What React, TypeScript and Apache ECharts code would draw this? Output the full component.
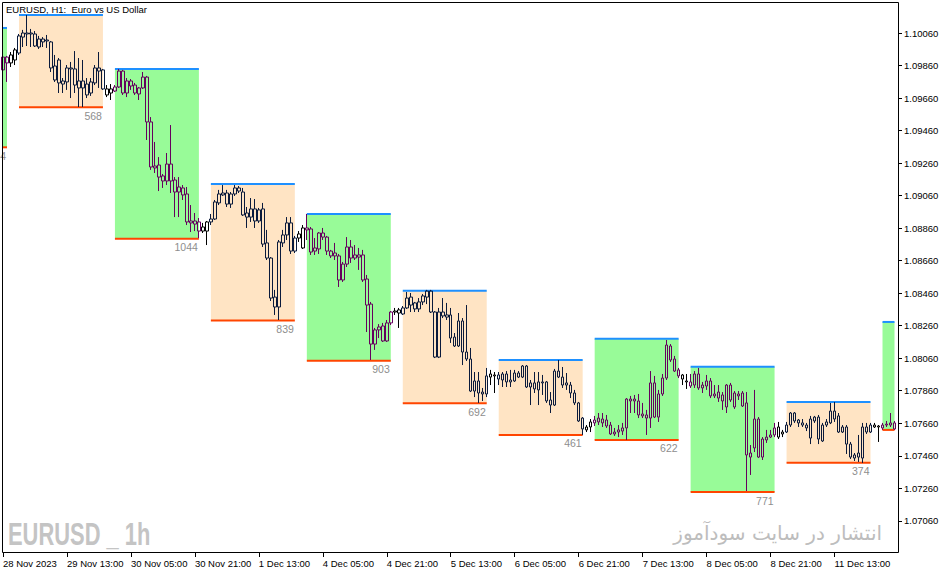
import React, { useEffect, useRef } from "react";
import * as echarts from "echarts";

// ---------- categories (H1 bars, weekend skipped) ----------
const tradingDays = ["28 Nov", "29 Nov", "30 Nov", "1 Dec", "4 Dec", "5 Dec", "6 Dec", "7 Dec", "8 Dec", "11 Dec", "12 Dec"];
const firstBarHour = 21;
const lastBarHour = 4;
const categories: string[] = [];
tradingDays.forEach((d, di) => {
  const h0 = di === 0 ? firstBarHour : 0;
  const h1 = di === tradingDays.length - 1 ? lastBarHour : 23;
  for (let h = h0; h <= h1; h++) categories.push(`${d} ${String(h).padStart(2, "0")}:00`);
});

const xTickEvery = 16;
const xTickLabels = [
  "28 Nov 2023", "29 Nov 13:00", "30 Nov 05:00", "30 Nov 21:00", "1 Dec 13:00", "4 Dec 05:00", "4 Dec 21:00",
  "5 Dec 13:00", "6 Dec 05:00", "6 Dec 21:00", "7 Dec 13:00", "8 Dec 05:00", "8 Dec 21:00", "11 Dec 13:00",
];
const yTickValues = [
  1.0706, 1.0726, 1.0746, 1.0766, 1.0786, 1.0806, 1.0826, 1.0846, 1.0866, 1.0886, 1.0906, 1.0926, 1.0946, 1.0966, 1.0986, 1.1006,
];

// ---------- OHLC ----------
const openPrices = [
  1.09833, 1.09912, 1.09876,
  1.09894, 1.09937, 1.10035, 1.1006, 1.1006, 1.10054, 1.09974, 1.10005, 1.10017, 1.10005, 1.09857, 1.09894, 1.09746, 1.09759, 1.09845, 1.09839, 1.09722, 1.09765, 1.09746, 1.09691, 1.09753, 1.09826, 1.09833, 1.09716,
  1.09691, 1.09703, 1.09728, 1.09826, 1.09691, 1.09765, 1.0974, 1.09685, 1.09722, 1.09789, 1.09513, 1.0923, 1.09248, 1.09181, 1.0915, 1.09254, 1.09156, 1.09082, 1.09107, 1.0907, 1.08904, 1.08885, 1.08898, 1.08842,
  1.08842, 1.08898, 1.08916, 1.09015, 1.09064, 1.09076, 1.09008, 1.0907, 1.09107, 1.09082, 1.08953, 1.08928, 1.08978, 1.08904, 1.08978, 1.08769, 1.08676, 1.08436, 1.08375, 1.08769, 1.08818, 1.08892, 1.08719, 1.08799,
  1.08738, 1.08861, 1.08855, 1.08719, 1.08732, 1.0883, 1.08805, 1.08719, 1.08689, 1.08689, 1.08541, 1.08639, 1.08744, 1.08676, 1.08682, 1.08695, 1.08547, 1.08393, 1.08147, 1.08234, 1.08258, 1.08166, 1.08277, 1.08344,
  1.08357, 1.08332, 1.08369, 1.08436, 1.084, 1.08363, 1.08406, 1.08436, 1.08473, 1.08344, 1.08067, 1.08344, 1.08326, 1.08326, 1.0819, 1.08135, 1.08289, 1.08098, 1.08055, 1.07858, 1.0792, 1.07852, 1.0784, 1.07944,
  1.07957, 1.07932, 1.07926, 1.07963, 1.07914, 1.0792, 1.07944, 1.07944, 1.08012, 1.07883, 1.07908, 1.07865, 1.07914, 1.07914, 1.07803, 1.07772, 1.07981, 1.07944, 1.07895, 1.07895, 1.07846, 1.07785, 1.07692, 1.07619,
  1.07637, 1.07662, 1.07668, 1.07686, 1.0768, 1.07649, 1.07606, 1.07606, 1.07612, 1.07631, 1.07809, 1.07797, 1.07797, 1.07717, 1.07711, 1.07692, 1.07908, 1.07698, 1.0784, 1.07938, 1.08135, 1.08055, 1.07988, 1.07957,
  1.0792, 1.07914, 1.07895, 1.07963, 1.07877, 1.07889, 1.0792, 1.0784, 1.07852, 1.07797, 1.0776, 1.07895, 1.0776, 1.0784, 1.07846, 1.07785, 1.07477, 1.07508, 1.07686, 1.07452, 1.07557, 1.07575, 1.07588, 1.07637,
  1.07594, 1.07606, 1.07649, 1.07723, 1.07662, 1.07662, 1.07631, 1.07686, 1.07674, 1.07698, 1.07551, 1.07649, 1.07662, 1.07735, 1.07705, 1.07606, 1.07637, 1.07532, 1.07446, 1.07477, 1.07446, 1.07606, 1.07606, 1.07637,
  1.07643, 1.07631, 1.07649, 1.07649, 1.07662,
];
const closePrices = [
  1.09912, 1.09876, 1.09925,
  1.09956, 1.10042, 1.1006, 1.10054, 1.10054, 1.0998, 1.10023, 1.10023, 1.10011, 1.09845, 1.09771, 1.09753, 1.09765, 1.09845, 1.09839, 1.0974, 1.09765, 1.09722, 1.09679, 1.09759, 1.09845, 1.09845, 1.09716, 1.09679,
  1.09716, 1.09728, 1.09826, 1.09691, 1.09765, 1.09734, 1.09691, 1.09722, 1.09789, 1.09513, 1.09236, 1.09242, 1.09174, 1.0915, 1.09254, 1.0915, 1.09082, 1.09113, 1.09064, 1.08898, 1.08892, 1.08904, 1.08842, 1.08867,
  1.08898, 1.08916, 1.09021, 1.0907, 1.09076, 1.09008, 1.0907, 1.09107, 1.09088, 1.08941, 1.08928, 1.08978, 1.08904, 1.08972, 1.08762, 1.08676, 1.0843, 1.08375, 1.08775, 1.08818, 1.08892, 1.08719, 1.08799, 1.08824,
  1.08861, 1.08849, 1.08713, 1.08738, 1.0883, 1.08805, 1.08719, 1.08689, 1.08707, 1.08541, 1.08639, 1.08744, 1.08676, 1.08695, 1.08695, 1.08541, 1.08387, 1.08147, 1.08234, 1.08252, 1.08166, 1.08277, 1.08344, 1.0835,
  1.08338, 1.08369, 1.0843, 1.08387, 1.08363, 1.08406, 1.08443, 1.08473, 1.08344, 1.08067, 1.08344, 1.0832, 1.08313, 1.08184, 1.08135, 1.08289, 1.08098, 1.08055, 1.07858, 1.0792, 1.07846, 1.0784, 1.07951, 1.07963,
  1.07951, 1.07957, 1.07963, 1.07914, 1.07926, 1.07969, 1.07969, 1.08012, 1.07883, 1.07908, 1.07871, 1.07914, 1.07908, 1.07797, 1.07772, 1.07981, 1.07944, 1.07895, 1.07908, 1.07846, 1.07785, 1.07674, 1.07625, 1.07637,
  1.07668, 1.0768, 1.07692, 1.07662, 1.07643, 1.07594, 1.07594, 1.07619, 1.07631, 1.07809, 1.07797, 1.07809, 1.07711, 1.07705, 1.07692, 1.07908, 1.07698, 1.0784, 1.07938, 1.08141, 1.08049, 1.07981, 1.07951, 1.07932,
  1.07914, 1.07889, 1.07963, 1.07877, 1.07895, 1.0792, 1.07828, 1.07828, 1.07815, 1.07834, 1.07895, 1.07803, 1.07846, 1.07828, 1.07766, 1.07465, 1.07452, 1.07686, 1.07452, 1.07563, 1.07575, 1.07588, 1.07631, 1.07575,
  1.07606, 1.07649, 1.07723, 1.07674, 1.0768, 1.07649, 1.07649, 1.07569, 1.07698, 1.07563, 1.07649, 1.07668, 1.07735, 1.07686, 1.07606, 1.07637, 1.07532, 1.07452, 1.07465, 1.07452, 1.07637, 1.07637, 1.07649, 1.07649,
  1.07637, 1.07649, 1.07655, 1.07662, 1.07625,
];
const lowPrices = [
  1.09802, 1.09759, 1.09851,
  1.09863, 1.09925, 1.09974, 1.0998, 1.09974, 1.09974, 1.09962, 1.09974, 1.09968, 1.0982, 1.09759, 1.09691, 1.09691, 1.0971, 1.0966, 1.09691, 1.09605, 1.09605, 1.0966, 1.09673, 1.0974, 1.09722, 1.0971, 1.09666,
  1.09648, 1.09697, 1.09722, 1.09679, 1.09666, 1.0971, 1.09679, 1.09648, 1.09716, 1.09402, 1.09218, 1.09199, 1.09088, 1.09107, 1.09125, 1.09076, 1.08928, 1.08928, 1.09033, 1.08879, 1.08836, 1.08842, 1.08799, 1.0883,
  1.08756, 1.08879, 1.0891, 1.09002, 1.09058, 1.0899, 1.08984, 1.09058, 1.09076, 1.08935, 1.08861, 1.08898, 1.08861, 1.08892, 1.08744, 1.08664, 1.08412, 1.08326, 1.08295, 1.08744, 1.08787, 1.08701, 1.08707, 1.08775,
  1.08732, 1.08787, 1.08695, 1.08695, 1.08701, 1.08787, 1.08695, 1.08676, 1.08664, 1.08498, 1.08529, 1.08621, 1.08646, 1.08664, 1.08603, 1.08529, 1.08221, 1.08049, 1.08111, 1.08184, 1.0816, 1.0816, 1.08264, 1.08326,
  1.08246, 1.08326, 1.08363, 1.08344, 1.08344, 1.08344, 1.08387, 1.08393, 1.08338, 1.08061, 1.08061, 1.08307, 1.08295, 1.08154, 1.08129, 1.08129, 1.08018, 1.08043, 1.07852, 1.07821, 1.07785, 1.07797, 1.07821, 1.07895,
  1.07846, 1.07895, 1.07883, 1.07883, 1.07883, 1.07914, 1.07938, 1.07938, 1.07877, 1.07772, 1.07846, 1.07772, 1.07834, 1.07785, 1.07723, 1.07766, 1.07938, 1.07877, 1.07865, 1.07815, 1.07772, 1.07668, 1.07588, 1.07606,
  1.07606, 1.07643, 1.07649, 1.07637, 1.07631, 1.07588, 1.07582, 1.07575, 1.07588, 1.07557, 1.07723, 1.07723, 1.07692, 1.07692, 1.07588, 1.07631, 1.07692, 1.07668, 1.07828, 1.07926, 1.08037, 1.07975, 1.07938, 1.07895,
  1.07871, 1.07877, 1.07877, 1.07865, 1.07846, 1.07865, 1.07815, 1.07815, 1.07791, 1.07742, 1.07723, 1.07791, 1.07748, 1.07803, 1.0776, 1.07243, 1.07342, 1.07483, 1.07446, 1.07434, 1.07539, 1.07569, 1.07575, 1.07563,
  1.07575, 1.076, 1.07637, 1.07662, 1.07637, 1.07637, 1.07612, 1.07532, 1.07662, 1.07532, 1.07545, 1.07637, 1.07655, 1.07668, 1.076, 1.076, 1.07471, 1.0744, 1.07428, 1.07422, 1.07416, 1.07594, 1.076, 1.07631,
  1.07545, 1.07619, 1.07637, 1.07637, 1.07619,
];
const highPrices = [
  1.09925, 1.09919, 1.09943,
  1.09968, 1.10054, 1.10079, 1.10171, 1.10085, 1.10072, 1.10042, 1.10035, 1.10048, 1.10011, 1.09925, 1.09906, 1.09783, 1.09863, 1.09882, 1.09949, 1.09906, 1.09894, 1.09783, 1.09783, 1.09863, 1.09943, 1.09839, 1.0974,
  1.09746, 1.0974, 1.09839, 1.09833, 1.09783, 1.09777, 1.09753, 1.09728, 1.0982, 1.09796, 1.09543, 1.0939, 1.09297, 1.09193, 1.09322, 1.09494, 1.09174, 1.09174, 1.09125, 1.09113, 1.09002, 1.08953, 1.08922, 1.08892,
  1.08904, 1.08947, 1.09033, 1.09095, 1.09125, 1.09095, 1.09082, 1.09125, 1.09119, 1.09107, 1.0899, 1.09045, 1.09039, 1.08984, 1.09015, 1.08849, 1.08682, 1.0848, 1.08787, 1.08849, 1.08928, 1.08928, 1.08812, 1.08842,
  1.08879, 1.08947, 1.08867, 1.08799, 1.08836, 1.08861, 1.08812, 1.08726, 1.08769, 1.08701, 1.08652, 1.08805, 1.08787, 1.08756, 1.08738, 1.08726, 1.08572, 1.08406, 1.08246, 1.0827, 1.08277, 1.08295, 1.0835, 1.08369,
  1.08369, 1.08381, 1.08467, 1.08461, 1.08406, 1.0843, 1.08455, 1.0848, 1.0848, 1.0835, 1.08369, 1.0843, 1.084, 1.08369, 1.08215, 1.08338, 1.08307, 1.08387, 1.08123, 1.07975, 1.07975, 1.07877, 1.08, 1.07988,
  1.07975, 1.07975, 1.07975, 1.07981, 1.07988, 1.07988, 1.07981, 1.08018, 1.08018, 1.07926, 1.07975, 1.07975, 1.07957, 1.0792, 1.07852, 1.07994, 1.08049, 1.08006, 1.07969, 1.07914, 1.07865, 1.07791, 1.07698, 1.07649,
  1.07686, 1.07705, 1.07723, 1.07723, 1.07711, 1.07668, 1.07631, 1.07649, 1.07662, 1.07815, 1.07828, 1.07834, 1.0784, 1.07785, 1.07742, 1.07981, 1.07951, 1.07865, 1.07963, 1.08172, 1.08147, 1.08074, 1.08, 1.07963,
  1.07963, 1.07963, 1.07981, 1.08, 1.07914, 1.07957, 1.07938, 1.07895, 1.07895, 1.07852, 1.07901, 1.07908, 1.07858, 1.07858, 1.07858, 1.07852, 1.07526, 1.07865, 1.07698, 1.07575, 1.07619, 1.07619, 1.07662, 1.07668,
  1.07619, 1.07668, 1.07729, 1.07729, 1.07686, 1.07686, 1.07662, 1.07705, 1.07705, 1.07711, 1.07662, 1.07686, 1.07785, 1.07791, 1.07723, 1.07649, 1.07649, 1.07545, 1.07477, 1.07588, 1.07662, 1.07662, 1.07662, 1.07662,
  1.07649, 1.07662, 1.07674, 1.07723, 1.07674,
];

// ---------- daily range boxes ----------
const boxStart = ["28 Nov 21:00", "29 Nov 01:00", "30 Nov 01:00", "1 Dec 01:00", "4 Dec 01:00", "5 Dec 01:00", "6 Dec 01:00", "7 Dec 01:00", "8 Dec 01:00", "11 Dec 01:00", "12 Dec 01:00"];
const boxEnd = ["28 Nov 22:00", "29 Nov 22:00", "30 Nov 22:00", "1 Dec 22:00", "4 Dec 22:00", "5 Dec 22:00", "6 Dec 22:00", "7 Dec 22:00", "8 Dec 22:00", "11 Dec 22:00", "12 Dec 04:00"];
const boxHigh = [1.10091, 1.10171, 1.09839, 1.09131, 1.08947, 1.08475, 1.08049, 1.08179, 1.08008, 1.07791, 1.08283];
const boxLow = [1.09357, 1.09603, 1.08795, 1.08292, 1.08044, 1.07783, 1.07588, 1.07557, 1.07237, 1.07417, 1.07619];
const boxLabel = ["734", "568", "1044", "839", "903", "692", "461", "622", "771", "374", ""];
const boxKind = ["green", "peach", "green", "peach", "green", "peach", "peach", "green", "green", "peach", "green"];

// ---------- styles ----------
const FONT = '"Liberation Sans", Arial, sans-serif';
const BOX_FILL: Record<string, string> = { green: "#98FB98", peach: "#FFE4C4" };
const CANDLE_COLOR: Record<string, string> = { green: "#66005E", peach: "#0A1A3C" };
const OUTSIDE_CANDLE = "#000000";
const TOP_LINE = "#1E90FF";
const BOTTOM_LINE = "#FF4500";
const Y_MIN = 1.068682;
const Y_MAX = 1.102476;

function candleColor(i: number): string {
  for (let k = 0; k < boxStart.length; k++) {
    const s = categories.indexOf(boxStart[k]);
    const e = categories.indexOf(boxEnd[k]);
    if (i >= s && i <= e) return CANDLE_COLOR[boxKind[k]];
  }
  return OUTSIDE_CANDLE;
}

export default function App() {
  const ref = useRef<HTMLDivElement>(null);
  useEffect(() => {
    if (!ref.current) return;
    const chart = echarts.init(ref.current, null, { renderer: "svg" });
    const candleData = categories.map((_, i) => {
      const col = candleColor(i);
      return {
        value: [openPrices[i], closePrices[i], lowPrices[i], highPrices[i]],
        itemStyle: {
          color: "transparent",
          color0: col,
          borderColor: col,
          borderColor0: col,
          borderColorDoji: col,
          borderWidth: 1,
        },
      };
    });
    const boxData = boxStart.map((s, k) => [categories.indexOf(s), boxHigh[k], categories.indexOf(boxEnd[k]), boxLow[k]]);

    const option: any = {
      animation: false,
      backgroundColor: "#ffffff",
      grid: { left: 0.5, right: 54.5, top: 2.5, bottom: 22, containLabel: false },
      xAxis: {
        type: "category",
        data: categories,
        boundaryGap: true,
        axisLine: { show: false },
        splitLine: { show: false },
        axisTick: {
          show: true,
          alignWithLabel: true,
          length: 5,
          interval: (i: number) => i % xTickEvery === 0,
          lineStyle: { color: "#000", width: 1 },
        },
        axisLabel: {
          interval: (i: number) => i % xTickEvery === 0,
          formatter: (v: string, i: number) => xTickLabels[Math.round(i / xTickEvery)] ?? v,
          align: "left",
          margin: 6,
          color: "#000",
          fontFamily: FONT,
          fontSize: 9.5,
        },
      },
      yAxis: {
        type: "value",
        position: "right",
        min: Y_MIN,
        max: Y_MAX,
        offset: 1.5,
        axisLine: { show: false },
        splitLine: { show: false },
        axisTick: { show: true, length: 4, customValues: yTickValues, lineStyle: { color: "#000", width: 1 } },
        axisLabel: {
          customValues: yTickValues,
          formatter: (v: number) => v.toFixed(5),
          margin: 6,
          color: "#000",
          fontFamily: FONT,
          fontSize: 9.5,
        },
      },
      series: [
        {
          type: "custom",
          z: 1,
          silent: true,
          data: boxData,
          encode: { x: [0, 2], y: [1, 3] },
          renderItem: (params: any, api: any) => {
            const k = params.dataIndex;
            const pTop = api.coord([api.value(0), api.value(1)]);
            const pBot = api.coord([api.value(2), api.value(3)]);
            const xL = pTop[0];
            const xR = pBot[0];
            const yT = pTop[1];
            const yB = pBot[1];
            const children: any[] = [
              { type: "rect", shape: { x: xL, y: yT, width: xR - xL, height: yB - yT }, style: { fill: BOX_FILL[boxKind[k]] } },
              { type: "line", shape: { x1: xL, y1: yT, x2: xR, y2: yT }, style: { stroke: TOP_LINE, lineWidth: 2 } },
              { type: "line", shape: { x1: xL, y1: yB, x2: xR, y2: yB }, style: { stroke: BOTTOM_LINE, lineWidth: 2 } },
            ];
            if (boxLabel[k]) {
              children.push({
                type: "text",
                x: xR - 1,
                y: yB + 3,
                style: { text: boxLabel[k], fill: "#8E8E8E", font: `10.5px ${FONT}`, align: "right", verticalAlign: "top" },
              });
            }
            return { type: "group", children };
          },
        },
        {
          type: "candlestick",
          z: 2,
          barWidth: 3,
          data: candleData,
        },
      ],
      graphic: [
        {
          type: "rect",
          z: 100,
          silent: true,
          shape: { x: 2.5, y: 2.5, width: 896, height: 550 },
          style: { fill: "none", stroke: "#000", lineWidth: 1 },
        },
        {
          type: "text",
          z: 101,
          x: 6,
          y: 9.5,
          style: { text: "EURUSD, H1:  Euro vs US Dollar", fill: "#000", font: `9.5px ${FONT}`, verticalAlign: "middle" },
        },
        {
          type: "text",
          z: 101,
          x: 8,
          y: 533.5,
          scaleX: 0.685,
          style: { text: "EURUSD _ 1h", fill: "#C4C4C4", font: `bold 32px ${FONT}`, verticalAlign: "middle" },
        },
        {
          type: "text",
          z: 101,
          x: 882,
          y: 533,
          style: { text: "انتشار در سایت سودآموز", fill: "#BDBDBD", font: '20px "DejaVu Sans", sans-serif', align: "right", verticalAlign: "middle" },
        },
      ],
    };
    chart.setOption(option);
    return () => chart.dispose();
  }, []);
  return <div ref={ref} style={{ position: "fixed", left: 0, top: 0, width: 951, height: 574 }} />;
}
